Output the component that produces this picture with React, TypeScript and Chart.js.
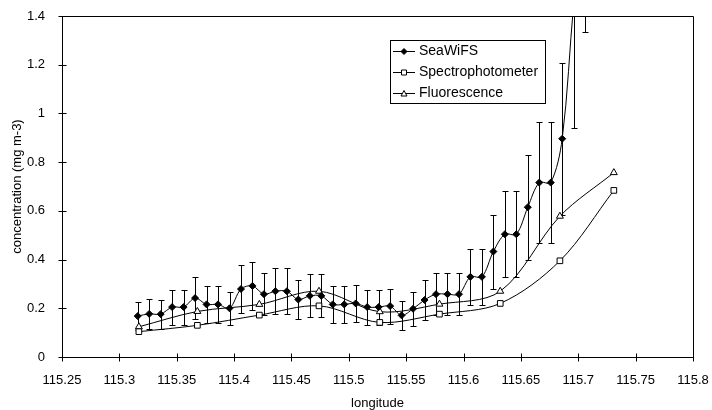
import React, { useEffect, useRef } from "react";
import { Chart, registerables } from "chart.js";

Chart.register(...registerables);

// ---- data ----
const seriesNames = ["SeaWiFS", "Spectrophotometer", "Fluorescence"];

const seaLon = [
  115.316, 115.326, 115.336, 115.346, 115.356, 115.366, 115.376, 115.386, 115.396, 115.406,
  115.416, 115.426, 115.436, 115.446, 115.456, 115.466, 115.476, 115.486, 115.496, 115.506,
  115.516, 115.526, 115.536, 115.546, 115.556, 115.566, 115.576, 115.586, 115.596, 115.606,
  115.616, 115.626, 115.636, 115.646, 115.656, 115.666, 115.676, 115.686, 115.696, 115.706,
];
const seaVal = [
  0.168, 0.177, 0.176, 0.205, 0.205, 0.242, 0.216, 0.216, 0.2, 0.279,
  0.292, 0.258, 0.27, 0.27, 0.236, 0.251, 0.251, 0.216, 0.216, 0.22,
  0.205, 0.205, 0.209, 0.171, 0.198, 0.234, 0.258, 0.258, 0.258, 0.329,
  0.329, 0.433, 0.504, 0.504, 0.615, 0.716, 0.716, 0.896, 1.45, 1.9,
];
const seaErr = [
  0.057, 0.06, 0.06, 0.072, 0.072, 0.085, 0.075, 0.075, 0.068, 0.1,
  0.1, 0.087, 0.094, 0.094, 0.082, 0.088, 0.088, 0.076, 0.076, 0.075,
  0.072, 0.072, 0.072, 0.059, 0.069, 0.082, 0.086, 0.086, 0.086, 0.114,
  0.114, 0.152, 0.176, 0.176, 0.215, 0.25, 0.25, 0.313, 0.51, 0.564,
];

const specLon = [115.317, 115.368, 115.422, 115.474, 115.527, 115.579, 115.632, 115.684, 115.731];
const specVal = [0.104, 0.13, 0.172, 0.21, 0.142, 0.176, 0.22, 0.395, 0.684];

const fluoLon = [115.317, 115.368, 115.422, 115.474, 115.527, 115.579, 115.632, 115.684, 115.731];
const fluoVal = [0.124, 0.187, 0.216, 0.27, 0.186, 0.217, 0.27, 0.578, 0.757];

const xMin = 115.25;
const xMax = 115.8;
const xStep = 0.05;
const yMin = 0;
const yMax = 1.4;
const yStep = 0.2;
const xTitle = "longitude";
const yTitle = "concentration (mg m-3)";

const FONT = "'Liberation Sans', Arial, sans-serif";

const fmt = (v: number) => String(parseFloat(Number(v).toFixed(2)));

const errorBarPlugin = {
  id: "errorBars",
  beforeDatasetsDraw(chart: any) {
    const { ctx, chartArea: a, scales } = chart;
    const x = scales.x;
    const y = scales.y;
    ctx.save();
    ctx.beginPath();
    ctx.rect(a.left, a.top, a.right - a.left, a.bottom - a.top);
    ctx.clip();
    ctx.strokeStyle = "#000";
    ctx.lineWidth = 1;
    seaLon.forEach((lon, i) => {
      const px = Math.round(x.getPixelForValue(lon)) + 0.5;
      const top = Math.round(y.getPixelForValue(seaVal[i] + seaErr[i])) + 0.5;
      const bot = Math.round(y.getPixelForValue(seaVal[i] - seaErr[i])) + 0.5;
      ctx.beginPath();
      ctx.moveTo(px, top);
      ctx.lineTo(px, bot);
      ctx.moveTo(px - 3, top);
      ctx.lineTo(px + 3, top);
      ctx.moveTo(px - 3, bot);
      ctx.lineTo(px + 3, bot);
      ctx.stroke();
    });
    ctx.restore();
  },
};

function drawMarker(ctx: CanvasRenderingContext2D, kind: string, cx: number, cy: number) {
  ctx.save();
  ctx.lineWidth = 1;
  ctx.strokeStyle = "#000";
  ctx.beginPath();
  if (kind === "diamond") {
    ctx.moveTo(cx, cy - 3);
    ctx.lineTo(cx + 3, cy);
    ctx.lineTo(cx, cy + 3);
    ctx.lineTo(cx - 3, cy);
    ctx.closePath();
    ctx.fillStyle = "#000";
    ctx.fill();
    ctx.stroke();
  } else if (kind === "square") {
    ctx.rect(cx - 2.5, cy - 2.5, 5, 5);
    ctx.fillStyle = "#fff";
    ctx.fill();
    ctx.stroke();
  } else {
    ctx.moveTo(cx, cy - 3);
    ctx.lineTo(cx + 3, cy + 2.5);
    ctx.lineTo(cx - 3, cy + 2.5);
    ctx.closePath();
    ctx.fillStyle = "#fff";
    ctx.fill();
    ctx.stroke();
  }
  ctx.restore();
}

const framePlugin = {
  id: "frame",
  afterDraw(chart: any) {
    const { ctx, chartArea: a, scales } = chart;
    const x = scales.x;
    const y = scales.y;
    ctx.save();
    ctx.strokeStyle = "#000";
    ctx.lineWidth = 1;
    const L = Math.round(a.left) + 0.5;
    const R = Math.round(a.right) + 0.5;
    const T = Math.round(a.top) + 0.5;
    const B = Math.round(a.bottom) + 0.5;
    ctx.beginPath();
    ctx.rect(L, T, R - L, B - T);
    ctx.stroke();
    ctx.beginPath();
    x.ticks.forEach((t: any) => {
      const px = Math.round(x.getPixelForValue(t.value)) + 0.5;
      ctx.moveTo(px, B - 4);
      ctx.lineTo(px, B + 4);
    });
    y.ticks.forEach((t: any) => {
      const py = Math.round(y.getPixelForValue(t.value)) + 0.5;
      ctx.moveTo(L - 4, py);
      ctx.lineTo(L + 4, py);
    });
    ctx.stroke();

    // legend
    const lx = 390.5;
    const ly = 40.5;
    const lw = 155;
    const lh = 63;
    ctx.fillStyle = "#fff";
    ctx.fillRect(lx, ly, lw, lh);
    ctx.strokeRect(lx, ly, lw, lh);
    const kinds = ["diamond", "square", "triangle"];
    const rows = [51.5, 72.5, 93.5];
    ctx.font = `14px ${FONT}`;
    ctx.textBaseline = "middle";
    ctx.textAlign = "left";
    seriesNames.forEach((name, i) => {
      ctx.beginPath();
      ctx.moveTo(393, rows[i]);
      ctx.lineTo(415, rows[i]);
      ctx.stroke();
      drawMarker(ctx, kinds[i], 404, rows[i]);
      ctx.fillStyle = "#000";
      ctx.fillText(name, 419, rows[i]);
    });
    ctx.restore();
  },
};

export default function App() {
  const ref = useRef<HTMLCanvasElement | null>(null);

  useEffect(() => {
    document.body.style.margin = "0";
    const canvas = ref.current;
    if (!canvas) return;
    const tickFont = { family: FONT, size: 13 };
    const chart = new Chart(canvas, {
      type: "line",
      data: {
        datasets: [
          {
            label: seriesNames[0],
            data: seaLon.map((v, i) => ({ x: v, y: seaVal[i] })),
            borderColor: "#000",
            borderWidth: 1,
            pointStyle: "rectRot",
            pointRadius: 3.5,
            pointBackgroundColor: "#000",
            pointBorderColor: "#000",
            pointBorderWidth: 1,
            tension: 0.33,
            fill: false,
          },
          {
            label: seriesNames[1],
            data: specLon.map((v, i) => ({ x: v, y: specVal[i] })),
            borderColor: "#000",
            borderWidth: 1,
            pointStyle: "rect",
            pointRadius: 4,
            pointBackgroundColor: "#fff",
            pointBorderColor: "#000",
            pointBorderWidth: 1,
            tension: 0.33,
            fill: false,
          },
          {
            label: seriesNames[2],
            data: fluoLon.map((v, i) => ({ x: v, y: fluoVal[i] })),
            borderColor: "#000",
            borderWidth: 1,
            pointStyle: "triangle",
            pointRadius: 4,
            pointBackgroundColor: "#fff",
            pointBorderColor: "#000",
            pointBorderWidth: 1,
            tension: 0.33,
            fill: false,
          },
        ],
      },
      options: {
        responsive: false,
        animation: false,
        events: [],
        layout: { padding: { top: 16, right: 19, bottom: 0, left: 0 } },
        plugins: {
          legend: { display: false },
          tooltip: { enabled: false },
        },
        scales: {
          x: {
            type: "linear",
            min: xMin,
            max: xMax,
            ticks: {
              stepSize: xStep,
              color: "#000",
              font: tickFont,
              padding: 8,
              maxRotation: 0,
              autoSkip: false,
              callback: (v: any) => fmt(v),
            },
            grid: { display: false },
            border: { display: false },
            title: {
              display: true,
              text: xTitle,
              color: "#000",
              font: tickFont,
              padding: { top: 0, bottom: -1 },
            },
            afterFit: (s: any) => {
              s.height = 53;
              s.paddingLeft = 0;
              s.paddingRight = 0;
            },
          },
          y: {
            type: "linear",
            min: yMin,
            max: yMax,
            ticks: {
              stepSize: yStep,
              color: "#000",
              font: tickFont,
              padding: 9,
              callback: (v: any) => fmt(v),
            },
            grid: { display: false },
            border: { display: false },
            title: {
              display: true,
              text: yTitle,
              color: "#000",
              font: tickFont,
              padding: { top: 10, bottom: 0 },
            },
            afterFit: (s: any) => {
              s.width = 62;
              s.paddingTop = 0;
              s.paddingBottom = 0;
            },
          },
        },
      },
      plugins: [errorBarPlugin, framePlugin],
    } as any);
    return () => chart.destroy();
  }, []);

  return (
    <div style={{ width: 712, height: 410, position: "relative" }}>
      <canvas ref={ref} width={712} height={410} style={{ display: "block" }} />
    </div>
  );
}
